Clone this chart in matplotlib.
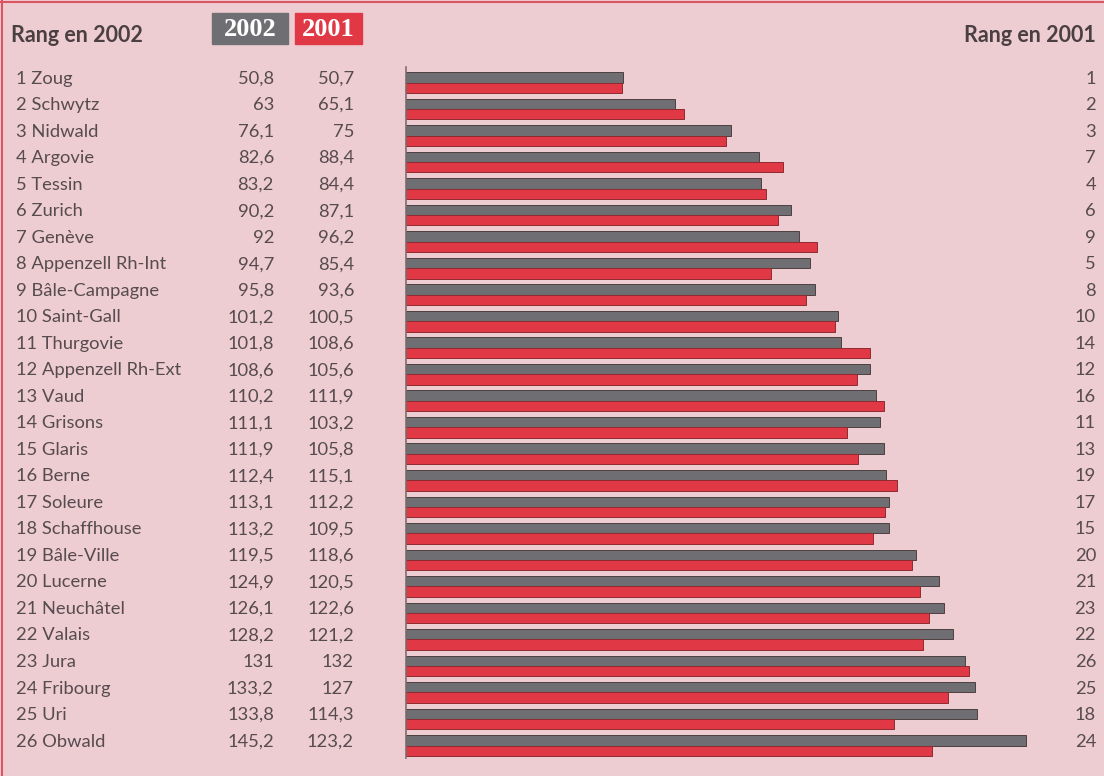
import matplotlib.pyplot as plt
import matplotlib.transforms as mtransforms

cantons = ['Zoug', 'Schwytz', 'Nidwald', 'Argovie', 'Tessin', 'Zurich', 'Genève',
           'Appenzell Rh-Int', 'Bâle-Campagne', 'Saint-Gall', 'Thurgovie',
           'Appenzell Rh-Ext', 'Vaud', 'Grisons', 'Glaris', 'Berne', 'Soleure',
           'Schaffhouse', 'Bâle-Ville', 'Lucerne', 'Neuchâtel', 'Valais', 'Jura',
           'Fribourg', 'Uri', 'Obwald']
val_2002 = [50.8, 63, 76.1, 82.6, 83.2, 90.2, 92, 94.7, 95.8, 101.2, 101.8, 108.6,
            110.2, 111.1, 111.9, 112.4, 113.1, 113.2, 119.5, 124.9, 126.1, 128.2,
            131, 133.2, 133.8, 145.2]
val_2001 = [50.7, 65.1, 75, 88.4, 84.4, 87.1, 96.2, 85.4, 93.6, 100.5, 108.6, 105.6,
            111.9, 103.2, 105.8, 115.1, 112.2, 109.5, 118.6, 120.5, 122.6, 121.2,
            132, 127, 114.3, 123.2]
rank_2001 = [1, 2, 3, 7, 4, 6, 9, 5, 8, 10, 14, 12, 16, 11, 13, 19, 17, 15, 20,
             21, 23, 22, 26, 25, 18, 24]

W, H = 1104, 776
bg = '#eecdd2'
grey = '#6f6f73'
red = '#e03844'
txt = '#564b4e'

plt.rcParams['font.family'] = ['Lato', 'DejaVu Sans']

fig = plt.figure(figsize=(W / 100, H / 100), dpi=100)
fig.patch.set_facecolor(bg)

# bar area: zero at x=406 px, 4.27 px per unit
ax = fig.add_axes([406 / W, 18 / H, 683 / W, 691 / H])
ax.set_facecolor('none')
ax.set_xlim(0, 160)
ax.set_ylim(25.47, -0.585)
for s in ['top', 'right', 'bottom']:
    ax.spines[s].set_visible(False)
ax.spines['left'].set_color('#7d6e70')
ax.spines['left'].set_linewidth(1.2)
ax.set_xticks([])
ax.set_yticks([])

ys = list(range(len(cantons)))
bh = 0.39
ax.barh([y - bh / 2 for y in ys], val_2002, height=bh, color=grey,
        edgecolor='#4e3f40', linewidth=0.7)
ax.barh([y + bh / 2 for y in ys], val_2001, height=bh, color=red,
        edgecolor='#8e2a30', linewidth=0.7)

tr = mtransforms.blended_transform_factory(fig.transFigure, ax.transData)
fs = 13.2
for i, name in enumerate(cantons):
    y = i - 0.15
    ax.text(16 / W, y, f'{i + 1} {name}', transform=tr, ha='left', va='center',
            fontsize=fs, color=txt, clip_on=False)
    ax.text(274 / W, y, f'{val_2002[i]:g}'.replace('.', ','), transform=tr,
            ha='right', va='center', fontsize=fs, color=txt, clip_on=False)
    ax.text(354 / W, y, f'{val_2001[i]:g}'.replace('.', ','), transform=tr,
            ha='right', va='center', fontsize=fs, color=txt, clip_on=False)
    ax.text(1096 / W, y, str(rank_2001[i]), transform=tr, ha='right',
            va='center', fontsize=fs, color=txt, clip_on=False)

fig.text(11 / W, 1 - 35 / H, 'Rang en 2002', ha='left', va='center',
         fontsize=15.5, fontweight='bold', color='#4a3f42')
fig.text(1096 / W, 1 - 35 / H, 'Rang en 2001', ha='right', va='center',
         fontsize=15.5, fontweight='bold', color='#4a3f42')

# legend boxes
for x0, x1, c, lab in [(212, 288, grey, '2002'), (295, 362, red, '2001')]:
    fig.patches.append(plt.Rectangle((x0 / W, 1 - 44 / H), (x1 - x0) / W, 31 / H,
                                     transform=fig.transFigure, color=c))
    fig.text((x0 + x1) / 2 / W, 1 - 30 / H, lab, ha='center', va='center',
             fontsize=19, fontweight='bold', color='white',
             family=['Liberation Serif', 'DejaVu Serif'])

# frame lines of the page
fig.add_artist(plt.Line2D([0, 1], [1 - 2 / H, 1 - 2 / H], color='#d9555f', lw=1.5))
fig.add_artist(plt.Line2D([1.5 / W, 1.5 / W], [0, 1], color='#d9555f', lw=1.5))

fig.savefig('out.png', dpi=100, facecolor=bg)
